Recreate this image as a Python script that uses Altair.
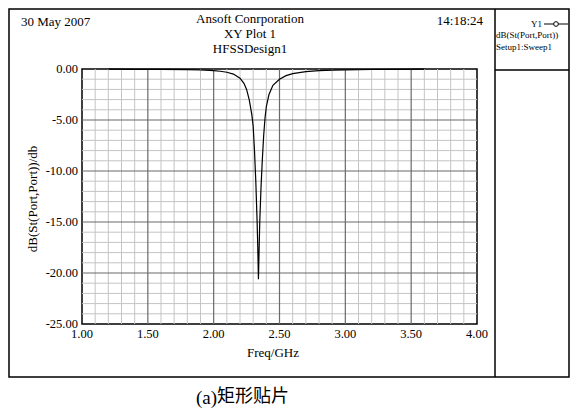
import altair as alt
import pandas as pd

# ---- data ----
freq = [1.20, 1.40, 1.60, 1.80, 1.90, 2.00, 2.05, 2.10, 2.15, 2.20, 2.23, 2.25, 2.27,
        2.29, 2.30, 2.31, 2.32, 2.33, 2.335, 2.34, 2.345, 2.35, 2.36, 2.37, 2.38,
        2.39, 2.40, 2.42, 2.45, 2.50, 2.55, 2.60, 2.70, 2.80, 2.90, 3.00, 3.20,
        3.40, 3.60]
db = [-0.02, -0.03, -0.04, -0.07, -0.10, -0.16, -0.22, -0.32, -0.50, -0.90, -1.40,
      -2.00, -3.00, -4.50, -5.60, -8.00, -11.0, -15.0, -17.5, -20.6, -17.8, -15.0,
      -11.5, -8.8, -6.5, -4.8, -3.7, -2.5, -1.6, -1.0, -0.65, -0.45, -0.25, -0.16,
      -0.11, -0.08, -0.05, -0.03, -0.02]

x_ticks = [1.0, 1.5, 2.0, 2.5, 3.0, 3.5, 4.0]
x_tick_labels = ["1.00", "1.50", "2.00", "2.50", "3.00", "3.50", "4.00"]
y_ticks = [-25, -20, -15, -10, -5, 0]
y_tick_labels = ["-25.00", "-20.00", "-15.00", "-10.00", "-5.00", "0.00"]
x_major_grid = [1.5, 2.0, 2.5, 3.0, 3.5]
x_minor_grid = [round(1.0 + 0.1 * i, 1) for i in range(1, 30) if i % 5 != 0]
y_major_grid = [-20, -15, -10, -5]
y_minor_grid = [v for v in range(-24, 0) if v % 5 != 0]

curve = pd.DataFrame({"freq": freq, "db": db})
one = alt.Data(values=[{"k": 1}])

W, H = 395, 255
FONT = "Liberation Serif"
CJK = "Noto Sans CJK SC"
xs = alt.Scale(domain=[1, 4], nice=False, zero=False)
ys = alt.Scale(domain=[-25, 0], nice=False, zero=False)

xgrid_minor = alt.Chart(pd.DataFrame({"freq": x_minor_grid})).mark_rule(
    color="#c4c4c4", strokeWidth=1).encode(x=alt.X("freq:Q", scale=xs, axis=None))
ygrid_minor = alt.Chart(pd.DataFrame({"db": y_minor_grid})).mark_rule(
    color="#c4c4c4", strokeWidth=1).encode(y=alt.Y("db:Q", scale=ys, axis=None))
xgrid_major = alt.Chart(pd.DataFrame({"freq": x_major_grid})).mark_rule(
    color="#6a6a6a", strokeWidth=1.2).encode(x=alt.X("freq:Q", scale=xs, axis=None))
ygrid_major = alt.Chart(pd.DataFrame({"db": y_major_grid})).mark_rule(
    color="#6a6a6a", strokeWidth=1.2).encode(y=alt.Y("db:Q", scale=ys, axis=None))

line = alt.Chart(curve).mark_line(color="black", strokeWidth=1.2).encode(
    x=alt.X("freq:Q", scale=xs, axis=None),
    y=alt.Y("db:Q", scale=ys, axis=None),
)

xlab = alt.Chart(pd.DataFrame({"freq": x_ticks, "lab": x_tick_labels})).mark_text(
    font=FONT, fontSize=12.5, color="black", baseline="middle", align="center"
).encode(x=alt.X("freq:Q", scale=xs, axis=None), y=alt.value(265), text="lab:N")

ylab = alt.Chart(pd.DataFrame({"db": y_ticks, "lab": y_tick_labels})).mark_text(
    font=FONT, fontSize=12.5, color="black", baseline="middle", align="right"
).encode(y=alt.Y("db:Q", scale=ys, axis=None), x=alt.value(-4), text="lab:N")


def txt(s, x, y, size=13, align="center", angle=0, font=FONT):
    kw = dict(text=s, fontSize=size, align=align, baseline="middle", font=font,
              color="black")
    if angle:
        kw["angle"] = angle
    return alt.Chart(one).mark_text(**kw).encode(x=alt.value(x), y=alt.value(y))


def rule(x, y, x2=None, y2=None, w=1.5):
    enc = dict(x=alt.value(x), y=alt.value(y))
    if x2 is not None:
        enc["x2"] = alt.value(x2)
    if y2 is not None:
        enc["y2"] = alt.value(y2)
    return alt.Chart(one).mark_rule(color="black", strokeWidth=w).encode(**enc)


# page coords -> plot coords: x - 82, y - 69
frame = alt.Chart(one).mark_rect(filled=False, stroke="black", strokeWidth=1.5).encode(
    x=alt.value(-73), x2=alt.value(487), y=alt.value(-60), y2=alt.value(308))

legend_v = rule(413, -60, y2=308)
legend_h = rule(413, 1, x2=487)
legend_line = rule(462, -45, x2=486, w=1)
legend_pt = alt.Chart(one).mark_point(shape="circle", size=22, filled=True,
                                      fill="white", stroke="black", strokeWidth=1,
                                      opacity=1).encode(
    x=alt.value(474), y=alt.value(-45))

texts = [
    txt("30 May 2007", -61, -47, align="left"),
    txt("Ansoft Conrporation", 168, -50),
    txt("XY Plot 1", 168, -35),
    txt("HFSSDesign1", 168, -20),
    txt("14:18:24", 401, -48, align="right"),
    txt("Y1", 460, -45, size=9, align="right"),
    txt("dB(St(Port,Port))", 414, -34, size=9, align="left"),
    txt("Setup1:Sweep1", 414, -22, size=9, align="left"),
    txt("dB(St(Port,Port))/db", -49, 130, angle=270),
    txt("Freq/GHz", 191, 284),
    txt("(a)", 135, 329, size=19, align="right"),
    txt("矩形贴片", 135, 328, size=18, align="left", font=CJK),
]

chart = alt.layer(
    xgrid_minor, ygrid_minor, xgrid_major, ygrid_major, line, xlab, ylab,
    frame, legend_v, legend_h, legend_line, legend_pt, *texts
).resolve_scale(x="shared", y="shared").properties(
    width=W, height=H, autosize="none",
    padding={"left": 74, "top": 61, "right": 95, "bottom": 85},
    background="white",
).configure_view(stroke="black", strokeWidth=1.5)

chart.save("out.html", embed_options={"renderer": "svg", "actions": False})
